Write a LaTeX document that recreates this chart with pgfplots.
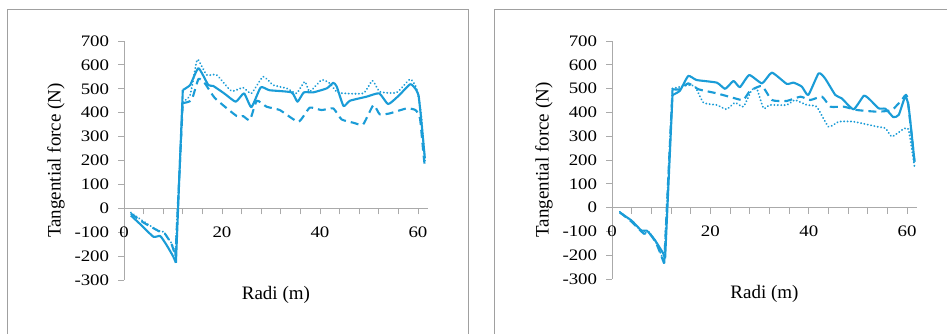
\documentclass[border=0pt]{standalone}
\usepackage{pgfplots}
\pgfplotsset{compat=1.18}
\usepackage{pgfplotstable}
\usepackage{fontspec}
\setmainfont{Liberation Serif}
\definecolor{lb}{RGB}{26,156,215}
\definecolor{axg}{RGB}{170,170,170}
\definecolor{frg}{RGB}{160,160,160}

\pgfplotstableread{
x y
1.4 -30
3.5 -70
6.0 -119
7.4 -116
8.7 -154
10.0 -200
10.6 -228
12.0 495
13.5 516
15.2 586
17.2 516
18.2 512
20.5 480
22.8 446
24.5 481
26.0 423
27.9 506
29.7 494
34.2 485
35.4 446
36.7 485
38.6 485
41.4 502
42.7 525
43.4 510
44.8 428
46.1 450
49.5 467
52.1 481
53.9 436
56.0 470
58.4 519
59.4 502
60.1 474
60.6 383
61.4 209
}\Lsolid
\pgfplotstableread{
x y
1.4 -22
4.0 -60
7.5 -100
8.3 -105
9.7 -150
10.5 -200
12.0 440
13.8 453
15.2 541
16.5 523
18.6 460
23.0 386
24.3 386
25.7 369
27.1 450
29.1 425
31.8 411
35.6 362
37.9 421
40.3 411
42.7 418
44.4 372
46.8 358
48.8 351
50.9 432
52.2 393
54.2 397
57.7 418
59.5 411
60.4 377
61.1 230
61.4 174
}\Ldash
\pgfplotstableread{
x y
1.4 -18
4.0 -55
7.0 -94
8.0 -98
9.7 -146
10.5 -190
12.0 446
13.5 474
14.8 613
15.2 620
16.9 558
18.9 558
21.9 491
24.3 505
26.0 481
28.4 551
30.4 516
33.2 502
35.2 481
36.9 530
37.9 488
40.3 537
42.0 523
43.7 484
48.8 481
50.7 534
52.2 488
55.6 484
58.4 540
59.7 502
60.6 400
61.4 200
}\Ldot
\pgfplotstableread{
x y
1.6 -21
4.0 -55
6.0 -97
7.1 -97
8.7 -136
10.4 -192
10.8 -213
12.3 473
13.8 491
15.5 553
17.2 536
21.3 525
23.0 499
24.7 532
26.0 506
27.9 557
30.5 522
32.5 567
35.5 520
36.9 525
38.6 508
39.9 473
42.0 564
43.3 543
45.4 473
46.7 459
49.1 413
51.2 470
52.5 452
54.2 417
55.6 415
57.2 380
58.3 390
59.6 466
60.3 424
61.5 193
}\Rsolid
\pgfplotstableread{
x y
1.6 -20
4.0 -60
6.5 -110
7.5 -105
9.0 -150
10.6 -235
12.3 497
13.8 497
15.5 522
17.6 497
21.3 480
25.0 459
26.7 452
28.1 491
30.5 511
32.5 452
35.5 448
38.3 466
40.3 452
42.7 466
44.4 424
47.1 424
49.8 410
53.9 403
56.9 410
58.9 452
60.0 466
61.5 190
}\Rdash
\pgfplotstableread{
x y
1.6 -18
4.0 -58
6.5 -108
7.5 -102
9.0 -148
10.6 -230
12.3 500
15.5 515
16.9 508
18.6 441
21.3 431
23.3 413
25.0 441
26.7 424
28.4 494
29.4 501
30.8 417
32.1 431
35.5 431
37.2 452
39.6 431
41.6 424
44.0 340
46.1 361
49.1 361
53.9 340
55.6 333
56.9 298
59.3 331
60.3 326
61.5 170
}\Rdot

\pgfplotsset{
  tgstyle/.style={
    scale only axis,
    xmin=0, xmax=62, ymin=-300, ymax=700,
    axis x line=middle, axis y line=left,
    hide obscured x ticks=false, hide obscured y ticks=false,
    axis line style={draw=axg, line width=0.9pt, -},
    tick align=outside,
    major tick length=6pt, minor tick length=6pt,
    tick style={draw=axg, line width=0.9pt},
    xtick={0,20,40,60},
    minor xtick={4,8,12,16,24,28,32,36,44,48,52,56},
    ytick={-300,-200,...,700},
    yticklabels={-300,-200,-100,0,100,200,300,400,500,600,700},
    xticklabels={0,20,40,60},
    ticklabel style={font=\fontsize{16}{18}\selectfont, xscale=1.18},
    yticklabel style={anchor=east, xshift=-4pt},
    xticklabel style={anchor=north, yshift=-9pt},
    every axis y label/.style={at={(rel axis cs:0,0.5)}, xshift=-68pt, rotate=90, anchor=center, font=\fontsize{19}{21}\selectfont},
    every axis x label/.style={at={(rel axis cs:0.5,0)}, yshift=-15pt, anchor=center, font=\fontsize{19}{21}\selectfont},
    xlabel={Radi (m)},
    ylabel={Tangential force (N)},
    clip=false,
  },
  base/.style={lb, line width=2.1pt, line join=round},
  sm/.style={smooth, tension=0.3},
  sol/.style={base},
  das/.style={base, dash pattern=on 8pt off 5pt},
  dts/.style={base, line cap=round, dash pattern=on 0.01pt off 3.4pt},
  pA/.style={restrict x to domain=0:11, sm},
  pB/.style={restrict x to domain=10.45:12.5, sharp plot},
  pC/.style={restrict x to domain=11.5:62, sm},
}

\begin{document}
\begin{tikzpicture}[x=1pt,y=1pt]
\path[use as bounding box] (0,0) rectangle (947,334);
\clip (0,0) rectangle (947,334);
\fill[white] (0,0) rectangle (947,334);
\draw[frg, line width=0.9pt] (7,-10) rectangle (468,325);
\draw[frg, line width=0.9pt] (494,-10) rectangle (980,325);

\begin{axis}[tgstyle, at={(124pt,54pt)}, anchor=south west, width=303.8pt, height=239pt]
\addplot[dts,pA] table {\Ldot};
\addplot[dts,pB] table {\Ldot};
\addplot[dts,pC] table {\Ldot};
\addplot[das,pA] table {\Ldash};
\addplot[das,pB] table {\Ldash};
\addplot[das,pC] table {\Ldash};
\addplot[sol,pA] table {\Lsolid};
\addplot[sol,pB] table {\Lsolid};
\addplot[sol,pC] table {\Lsolid};
\end{axis}

\begin{axis}[tgstyle, at={(612pt,55pt)}, anchor=south west, width=305pt, height=238pt]
\addplot[dts,pA] table {\Rdot};
\addplot[dts,pB] table {\Rdot};
\addplot[dts,pC] table {\Rdot};
\addplot[das,pA] table {\Rdash};
\addplot[das,pB] table {\Rdash};
\addplot[das,pC] table {\Rdash};
\addplot[sol,pA] table {\Rsolid};
\addplot[sol,pB] table {\Rsolid};
\addplot[sol,pC] table {\Rsolid};
\end{axis}
\end{tikzpicture}
\end{document}
